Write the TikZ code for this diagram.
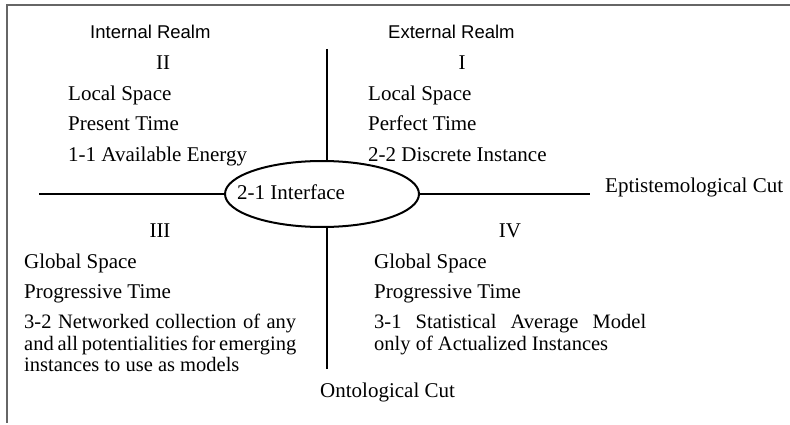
\documentclass[tikz,border=0pt]{standalone}
\usepackage{fontspec}
\setmainfont{Liberation Serif}
\setsansfont{Liberation Sans}
\usetikzlibrary{shapes.geometric,positioning}

\begin{document}
\begin{tikzpicture}[x=1pt, y=-1pt,
  txt/.style={inner sep=0pt, anchor=base west, font=\fontsize{21}{21.5}\selectfont},
  quad/.style={inner sep=0pt, anchor=base, font=\fontsize{21}{21.5}\selectfont},
  para/.style={txt, text width=272pt, align=justify, font=\fontsize{20.5}{21.5}\selectfont},
  realm/.style={inner sep=0pt, anchor=base west, font=\sffamily\fontsize{18.5}{20}\selectfont},
  cut/.style={line width=2.4pt},
  frame/.style={line width=1.5pt, gray!80!black},
  iface/.style={ellipse, draw, line width=2pt, minimum width=194pt, minimum height=66pt, inner sep=0pt}]
  \useasboundingbox (0,0) rectangle (790,425);
  \draw[frame] (790,5) -- (7,5) -- (7,423);

  % realms
  \node[realm] (intr) at (90,39) {Internal Realm};
  \node[realm] (extr) at (388,39) {External Realm};

  % the two cuts and the interface
  \node[iface] (iface) at (322,194) {};
  \node[txt] (ifacetxt) at (237,200) {2-1 Interface};
  \coordinate (ntop) at (327,49);
  \coordinate (nbot) at (327,369);
  \coordinate (wend) at (39,194);
  \coordinate (eend) at (590,194);
  \draw[cut] (ntop) -- (ntop |- iface.north);
  \draw[cut] (nbot) -- (nbot |- iface.south);
  \draw[cut] (wend) -- (iface.west);
  \draw[cut] (iface.east) -- (eend);
  \node[txt] (epcut) at (605,193) {Eptistemological Cut};
  \node[txt] (oncut) at (320,397) {Ontological Cut};

  % quadrant II
  \node[quad] (q2) at (163,70) {II};
  \node[txt] (q2a) at (68,101) {Local Space};
  \node[txt] (q2b) at (68,131) {Present Time};
  \node[txt] (q2c) at (68,161.5) {1-1 Available Energy};

  % quadrant I
  \node[quad] (q1) at (462,70) {I};
  \node[txt] (q1a) at (368,101) {Local Space};
  \node[txt] (q1b) at (368,131) {Perfect Time};
  \node[txt] (q1c) at (368,161.5) {2-2 Discrete Instance};

  % quadrant III
  \node[quad] (q3) at (160,237) {III};
  \node[txt] (q3a) at (24,268) {Global Space};
  \node[txt] (q3b) at (24,298) {Progressive Time};
  \node[para] (q3c) at (24,328.5) {\hyphenpenalty=10000
    3-2 Networked collection of any\linebreak
    and all potentialities for emerging\linebreak instances to use as models};

  % quadrant IV
  \node[quad] (q4) at (510,237) {IV};
  \node[txt] (q4a) at (374,268) {Global Space};
  \node[txt] (q4b) at (374,298) {Progressive Time};
  \node[para] (q4c) at (374,328.5) {3-1 Statistical Average Model\linebreak
    only of Actualized Instances};
\end{tikzpicture}
\end{document}
